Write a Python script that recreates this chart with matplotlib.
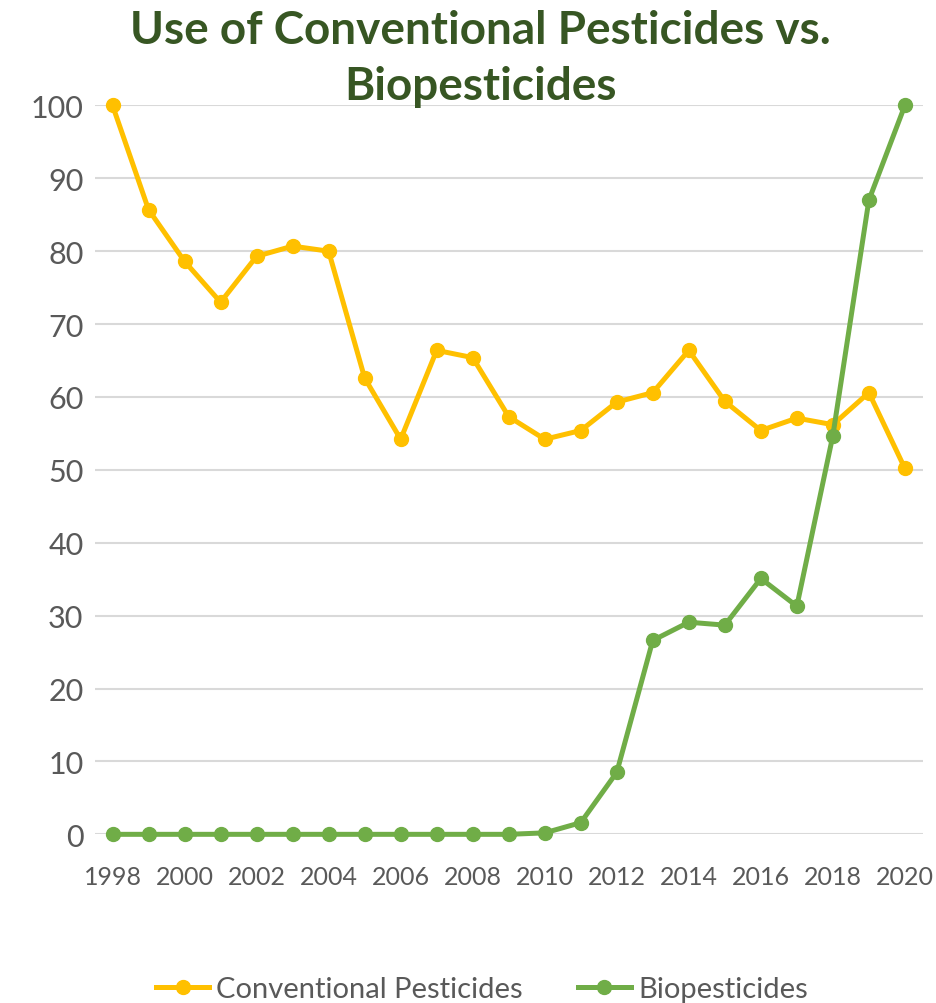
import matplotlib.pyplot as plt

years = list(range(1998, 2021))
conventional = [100, 85.7, 78.6, 73.0, 79.3, 80.7, 80.0, 62.6, 54.2, 66.4, 65.4, 57.3,
                54.2, 55.4, 59.3, 60.6, 66.4, 59.4, 55.4, 57.1, 56.2, 60.6, 50.2]
bio = [0, 0, 0, 0, 0, 0, 0, 0, 0, 0, 0, 0,
       0.2, 1.6, 8.5, 26.6, 29.1, 28.7, 35.1, 31.3, 54.7, 87.0, 100]
xticks = list(range(1998, 2021, 2))
yticks = list(range(0, 101, 10))

plt.rcParams['font.family'] = ['Lato', 'DejaVu Sans']

fig = plt.figure(figsize=(9.36, 10.04), dpi=100)
ax = fig.add_axes([0.101, 0.168, 0.885, 0.726])

ax.plot(years, conventional, '-o', color='#FFC000', linewidth=3.6, markersize=10,
        label='Conventional Pesticides', zorder=3)
ax.plot(years, bio, '-o', color='#70AD47', linewidth=3.6, markersize=10,
        label='Biopesticides', zorder=4)

ax.set_xlim(1997.5, 2020.5)
ax.set_ylim(0, 100)
ax.set_xticks(xticks)
ax.set_yticks(yticks)
ax.tick_params(axis='both', length=0, colors='#595959')
ax.tick_params(axis='x', pad=22, labelsize=18)
ax.tick_params(axis='y', pad=8, labelsize=22)
ax.grid(axis='y', color='#D9D9D9', linewidth=1.5)
ax.set_axisbelow(True)
for s in ax.spines.values():
    s.set_visible(False)
for l in ax.lines:
    l.set_clip_on(False)

fig.text(0.513, 0.99, 'Use of Conventional Pesticides vs.\nBiopesticides', ha='center', va='top',
         fontsize=33, fontweight='bold', color='#375623', linespacing=1.4)

fig.legend(loc='lower center', bbox_to_anchor=(0.515, -0.025), ncol=2, frameon=False,
           fontsize=21, labelcolor='#595959', handlelength=1.8, handletextpad=0.25,
           columnspacing=1.9)

plt.savefig('out.png')
